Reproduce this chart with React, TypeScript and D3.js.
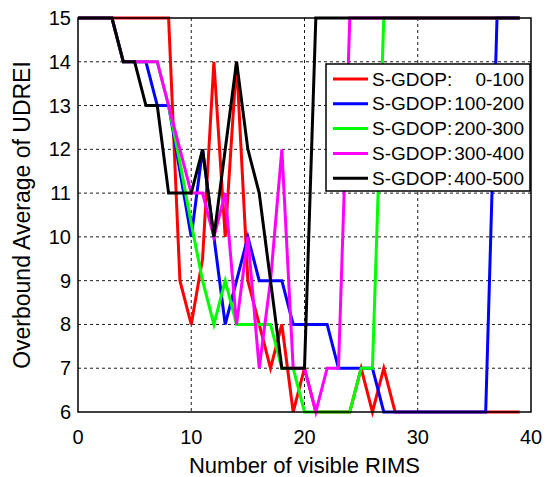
import React from 'react';
import * as d3 from 'd3';

const xValues = d3.range(0, 40);

const red = [15, 15, 15, 15, 15, 15, 15, 15, 15, 9, 8, 9.5, 14, 10, 14, 9, 8, 7, 8, 6, 7, 6, 6, 6, 6, 7, 6, 7, 6, 6, 6, 6, 6, 6, 6, 6, 6, 6, 6, 6];
const blue = [15, 15, 15, 15, 14, 14, 14, 13, 13, 11.5, 10, 12, 10, 8, 9, 10, 9, 9, 9, 8, 8, 8, 8, 7, 7, 7, 7, 6, 6, 6, 6, 6, 6, 6, 6, 6, 6, 15, 15, 15];
const green = [15, 15, 15, 15, 14, 14, 14, 14, 13, 11.7, 10.3, 9, 8, 9, 8, 8, 8, 8, 7, 7, 6, 6, 6, 6, 6, 7, 7, 15, 15, 15, 15, 15, 15, 15, 15, 15, 15, 15, 15, 15];
const magenta = [15, 15, 15, 15, 14, 14, 14, 14, 13, 12, 11, 11, 10, 11, 8, 10, 7, 9, 12, 7, 7, 6, 7, 7, 15, 15, 15, 15, 15, 15, 15, 15, 15, 15, 15, 15, 15, 15, 15, 15];
const black = [15, 15, 15, 15, 14, 14, 13, 13, 11, 11, 11, 12, 10, 12, 14, 12, 11, 9, 7, 7, 7, 15, 15, 15, 15, 15, 15, 15, 15, 15, 15, 15, 15, 15, 15, 15, 15, 15, 15, 15];

const seriesNames = ['0-100', '100-200', '200-300', '300-400', '400-500'];
const seriesColors = ['#ff0000', '#0000ff', '#00ff00', '#ff00ff', '#000000'];
const seriesValues = [red, blue, green, magenta, black];

const xTicks = [0, 10, 20, 30, 40];
const yTicks = [6, 7, 8, 9, 10, 11, 12, 13, 14, 15];

const W = 551;
const H = 477;
const margin = { left: 78, right: 20, top: 18, bottom: 65 };
const font = '"Liberation Sans", Arial, sans-serif';

export default function App() {
  const x = d3.scaleLinear().domain([0, 40]).range([margin.left, W - margin.right]);
  const y = d3.scaleLinear().domain([6, 15]).range([H - margin.bottom, margin.top]);
  const line = d3.line<number>()
    .x((_, i) => x(xValues[i]))
    .y(d => y(d));

  const [x0, x1] = x.range();
  const [y0, y1] = y.range();

  // legend box
  const lg = { x: 326, y: 64, w: 204, h: 127 };

  return (
    <svg width={W} height={H} style={{ position: 'absolute', left: 0, top: 0, background: '#fff' }}
      fontFamily={font}>
      {/* grid */}
      {xTicks.slice(1, -1).map(t => (
        <line key={'gx' + t} x1={x(t)} x2={x(t)} y1={y1} y2={y0}
          stroke="#000" strokeWidth={0.9} strokeDasharray="3,3" />
      ))}
      {yTicks.slice(1, -1).map(t => (
        <line key={'gy' + t} x1={x0} x2={x1} y1={y(t)} y2={y(t)}
          stroke="#000" strokeWidth={0.9} strokeDasharray="3,3" />
      ))}

      {/* series */}
      {seriesValues.map((vals, i) => (
        <path key={i} d={line(vals) || ''} fill="none" stroke={seriesColors[i]}
          strokeWidth={3} strokeLinejoin="miter" />
      ))}

      {/* axes box */}
      <rect x={x0} y={y1} width={x1 - x0} height={y0 - y1} fill="none" stroke="#000" strokeWidth={1.5} />

      {/* tick labels */}
      {xTicks.map(t => (
        <text key={'tx' + t} x={x(t)} y={y0 + 32} textAnchor="middle" fontSize={20}>{t}</text>
      ))}
      {yTicks.map(t => (
        <text key={'ty' + t} x={x0 - 7} y={y(t)} dy="0.35em" textAnchor="end" fontSize={20}>{t}</text>
      ))}

      {/* axis titles */}
      <text x={(x0 + x1) / 2} y={H - 4} textAnchor="middle" fontSize={22}>Number of visible RIMS</text>
      <text transform={`translate(30,${(y0 + y1) / 2}) rotate(-90)`} textAnchor="middle" fontSize={23}>
        Overbound Average of UDREI
      </text>

      {/* legend */}
      <rect x={lg.x} y={lg.y} width={lg.w} height={lg.h} fill="#fff" stroke="#000" strokeWidth={1.5} />
      {seriesNames.map((name, i) => {
        const cy = lg.y + 15 + i * 24.8;
        return (
          <g key={name}>
            <line x1={lg.x + 7} x2={lg.x + 42} y1={cy} y2={cy} stroke={seriesColors[i]} strokeWidth={3} />
            <text x={lg.x + 46} y={cy} dy="0.35em" fontSize={19}>S-GDOP:</text>
            <text x={lg.x + 198} y={cy} dy="0.35em" fontSize={19} textAnchor="end">{name}</text>
          </g>
        );
      })}
    </svg>
  );
}
